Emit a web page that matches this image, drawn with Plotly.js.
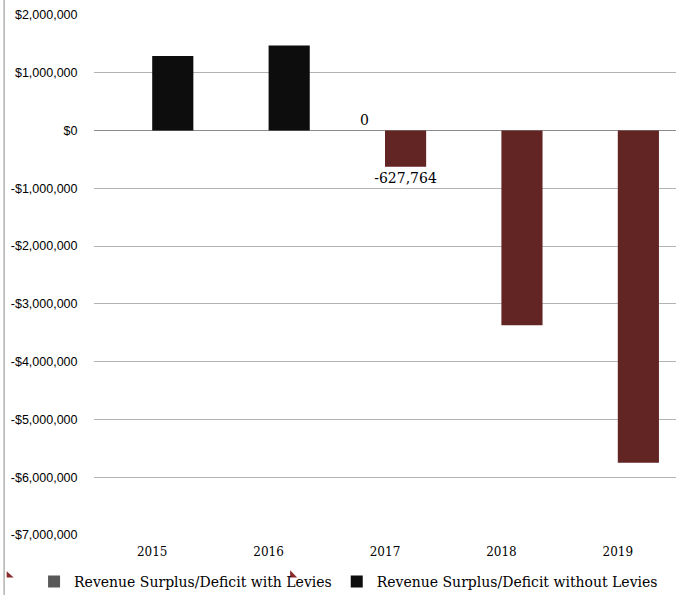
<!DOCTYPE html>
<html>
<head>
<meta charset="utf-8">
<script src="https://cdn.plot.ly/plotly-3.0.1.min.js"></script>
<style>html,body{margin:0;padding:0;background:#fff;}#chart{width:684px;height:595px;}</style>
</head>
<body>
<div id="chart"></div>
<script>
var years = ['2015', '2016', '2017', '2018', '2019'];
var withLevies = [null, null, 0, null, null];
var withoutLevies = [1290000, 1470000, -627764, -3370000, -5750000];
var withoutColors = ['#0d0d0d', '#0d0d0d', '#632523', '#632523', '#632523'];
var withLabels = ['', '', '0', '', ''];
var withoutLabels = ['', '', '-627,764', '', ''];
var tickVals = [2000000, 1000000, 0, -1000000, -2000000, -3000000, -4000000, -5000000, -6000000, -7000000];
var tickText = ['$2,000,000', '$1,000,000', '$0', '-$1,000,000', '-$2,000,000', '-$3,000,000', '-$4,000,000', '-$5,000,000', '-$6,000,000', '-$7,000,000'];

var serif = 'DejaVu Serif, Liberation Serif, serif';
var sans = 'Liberation Sans, Arial, sans-serif';

var traces = [
  {
    type: 'bar', name: 'Revenue Surplus/Deficit with Levies',
    x: years, y: withLevies,
    marker: {color: '#595959'},
    text: withLabels, textposition: 'outside', cliponaxis: false, constraintext: 'none',
    textfont: {family: serif, size: 14, color: '#000'}
  },
  {
    type: 'bar', name: 'Revenue Surplus/Deficit without Levies',
    x: years, y: withoutLevies,
    marker: {color: withoutColors},
    text: withoutLabels, textposition: 'outside', cliponaxis: false, constraintext: 'none',
    textfont: {family: serif, size: 14, color: '#000'}
  }
];

var layout = {
  width: 684, height: 595,
  margin: {l: 94, r: 8, t: 15, b: 60, autoexpand: false},
  paper_bgcolor: '#fff', plot_bgcolor: '#fff',
  barmode: 'group', bargap: 0.293, bargroupgap: 0,
  showlegend: true,
  legend: {orientation: 'h', x: -0.103, xanchor: 'left', y: -0.09, yanchor: 'middle',
           bgcolor: 'rgba(0,0,0,0)',
           font: {family: serif, size: 14, color: '#000'}, itemwidth: 30, traceorder: 'normal', tracegroupgap: 0},
  xaxis: {type: 'category', showgrid: false, zeroline: false, showline: false,
          tickfont: {family: serif, size: 12, color: '#000'}, ticks: 'outside', ticklen: 6, tickcolor: 'rgba(0,0,0,0)'},
  yaxis: {range: [-7000000, 2000000], tickvals: tickVals, ticktext: tickText,
          showgrid: true, gridcolor: '#b3b3b3', gridwidth: 1,
          zeroline: true, zerolinecolor: '#8c8c8c', zerolinewidth: 1,
          showline: false, ticks: 'outside', ticklen: 13, tickcolor: 'rgba(0,0,0,0)',
          tickfont: {family: sans, size: 12.5, color: '#000'}},
  shapes: [
    {type: 'line', xref: 'paper', yref: 'paper', x0: -0.1545, x1: -0.1545, y0: -0.12, y1: 1.03,
     line: {color: '#8c8c8c', width: 1}},
    {type: 'path', xref: 'paper', yref: 'paper',
     path: 'M -0.150 -0.0695 L -0.150 -0.0815 L -0.138 -0.0815 Z', fillcolor: '#8b2a2a', line: {width: 0}},
    {type: 'path', xref: 'paper', yref: 'paper',
     path: 'M 0.3370 -0.0678 L 0.3370 -0.0815 L 0.3490 -0.0815 Z', fillcolor: '#8b2a2a', line: {width: 0}}
  ]
};

Plotly.newPlot('chart', traces, layout, {displayModeBar: false, staticPlot: true});
</script>
</body>
</html>
